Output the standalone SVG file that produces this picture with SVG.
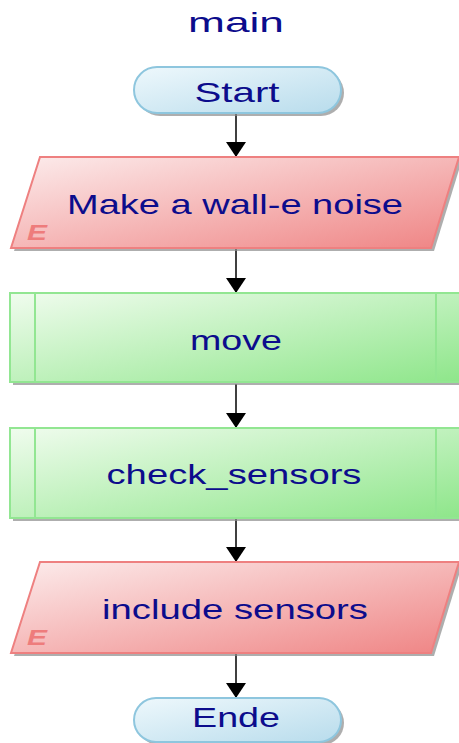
<svg xmlns="http://www.w3.org/2000/svg" width="459" height="743" viewBox="0 0 459 743">
<defs>
<linearGradient id="gBlue" x1="0" y1="0" x2="1" y2="1"><stop offset="0" stop-color="#eef8fc"/><stop offset="1" stop-color="#b8dcec"/></linearGradient>
<linearGradient id="gRed" x1="0" y1="0" x2="1" y2="1"><stop offset="0" stop-color="#fcecec"/><stop offset="1" stop-color="#ef8484"/></linearGradient>
<linearGradient id="gGreen" x1="0" y1="0" x2="1" y2="1"><stop offset="0" stop-color="#f0fcee"/><stop offset="1" stop-color="#8ee68a"/></linearGradient>
<marker id="arr" markerWidth="15" markerHeight="20" refX="15" refY="10" orient="auto" markerUnits="userSpaceOnUse" viewBox="0 0 15 20"><path d="M0,0 L15,10 L0,20 Z" fill="#000"/></marker>
</defs>
<style>
.t{font-family:"Liberation Sans",Arial,sans-serif;font-size:28px;fill:#0c0c8c;text-anchor:middle}
.e{font-family:"Liberation Sans",Arial,sans-serif;font-size:22px;font-weight:bold;font-style:italic;fill:#ee7c7c}
.sh{fill:#8c8c8c;opacity:0.7}
.term{fill:url(#gBlue);stroke:#8ec6de;stroke-width:2}
.io{fill:url(#gRed);stroke:#ee8080;stroke-width:2}
.sub{fill:url(#gGreen);stroke:#92e692;stroke-width:2}
.c{stroke:#000;stroke-width:1.5;fill:none}
</style>
<text class="t" x="236" y="32" textLength="96" lengthAdjust="spacingAndGlyphs">main</text>
<g id="connectors">
<line class="c" x1="236" y1="114" x2="236" y2="157" marker-end="url(#arr)"/>
<line class="c" x1="236" y1="249" x2="236" y2="293" marker-end="url(#arr)"/>
<line class="c" x1="236" y1="384" x2="236" y2="428" marker-end="url(#arr)"/>
<line class="c" x1="236" y1="519" x2="236" y2="562" marker-end="url(#arr)"/>
<line class="c" x1="236" y1="654" x2="236" y2="698" marker-end="url(#arr)"/>
</g>
<g id="start">
<rect class="sh" x="137" y="70" width="207" height="46" rx="23"/>
<rect class="term" x="134" y="67" width="207" height="46" rx="23"/>
<text class="t" x="237" y="102" textLength="85" lengthAdjust="spacingAndGlyphs">Start</text>
</g>
<g id="noise">
<polygon class="sh" points="43,160 462,160 434,251 14,251"/>
<polygon class="io" points="40,157 459,157 431,248 11,248"/>
<text class="t" x="235" y="214" textLength="336" lengthAdjust="spacingAndGlyphs">Make a wall-e noise</text>
<text class="e" x="27" y="240" textLength="20" lengthAdjust="spacingAndGlyphs">E</text>
</g>
<g id="move">
<rect class="sh" x="13" y="296" width="450" height="89"/>
<rect class="sub" x="10" y="293" width="452" height="89"/>
<line x1="35" y1="293" x2="35" y2="382" stroke="#92e692" stroke-width="2"/>
<line x1="436" y1="293" x2="436" y2="382" stroke="#92e692" stroke-width="2"/>
<text class="t" x="236" y="350" textLength="92" lengthAdjust="spacingAndGlyphs">move</text>
</g>
<g id="check_sensors">
<rect class="sh" x="13" y="431" width="450" height="90"/>
<rect class="sub" x="10" y="428" width="452" height="90"/>
<line x1="35" y1="428" x2="35" y2="518" stroke="#92e692" stroke-width="2"/>
<line x1="436" y1="428" x2="436" y2="518" stroke="#92e692" stroke-width="2"/>
<text class="t" x="234" y="484" textLength="255" lengthAdjust="spacingAndGlyphs">check_sensors</text>
</g>
<g id="include">
<polygon class="sh" points="43,565 462,565 434,656 14,656"/>
<polygon class="io" points="40,562 459,562 431,653 11,653"/>
<text class="t" x="235" y="619" textLength="266" lengthAdjust="spacingAndGlyphs">include sensors</text>
<text class="e" x="27" y="645" textLength="20" lengthAdjust="spacingAndGlyphs">E</text>
</g>
<g id="ende">
<rect class="sh" x="137" y="701" width="207" height="44" rx="22"/>
<rect class="term" x="134" y="698" width="207" height="44" rx="22"/>
<text class="t" x="236" y="727" textLength="88" lengthAdjust="spacingAndGlyphs">Ende</text>
</g>
</svg>
